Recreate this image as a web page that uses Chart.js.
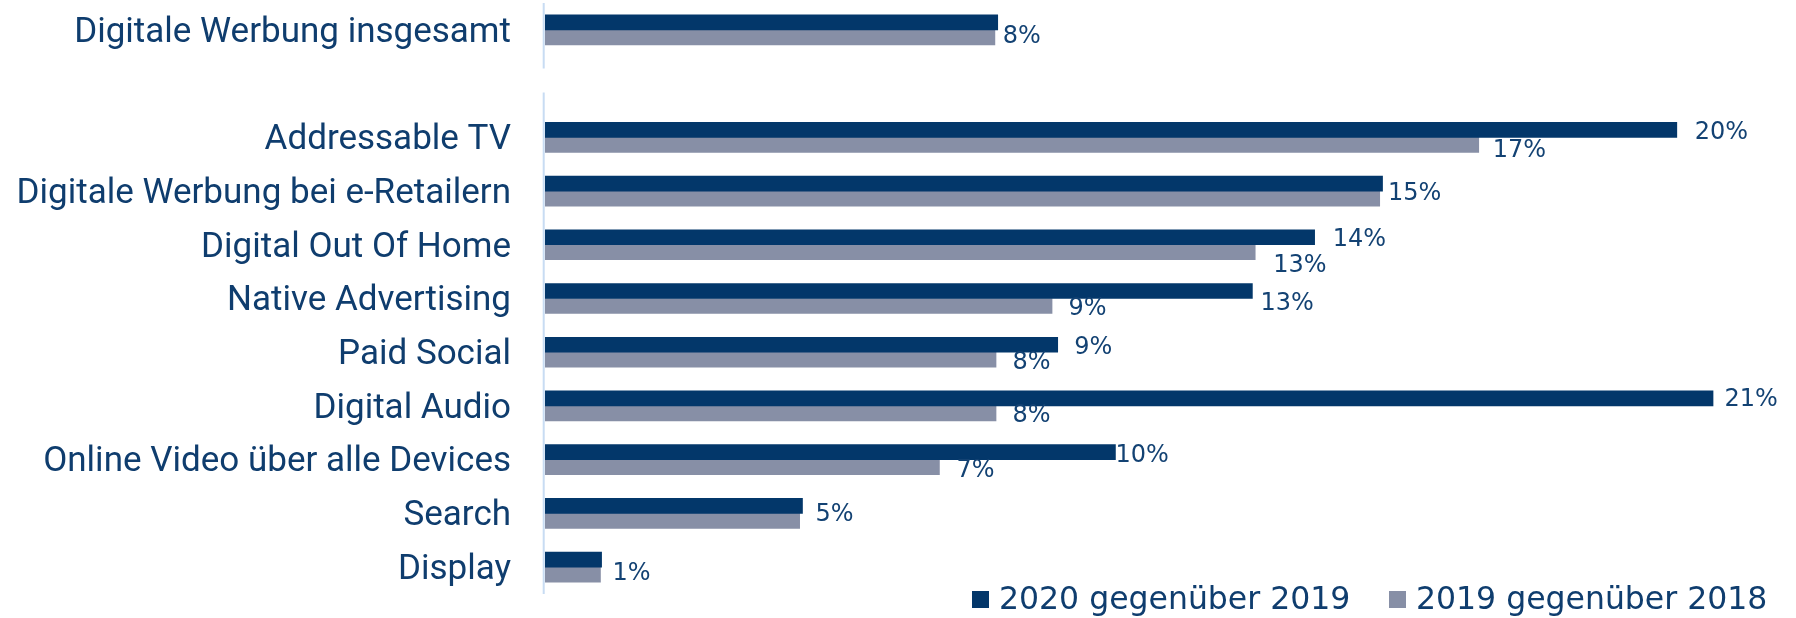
<!DOCTYPE html>
<html lang="de">
<head>
  <meta charset="UTF-8" />
  <title>Wachstum digitale Werbung</title>
  <script src="https://cdn.jsdelivr.net/npm/chart.js"></script>
  <style>
    body {
      margin: 0;
      background: #fff;
    }
    #wrap {
      position: relative;
      width: 1796px;
      height: 618px;
    }
    .legend-item {
      position: absolute;
      top: 580px;
      display: flex;
      align-items: flex-start;
      font-family: "DejaVu Sans", Verdana, sans-serif;
      font-size: 31.5px;
      line-height: 37px;
      color: #0f3d6e;
      white-space: nowrap;
    }
    .legend-item span.box {
      width: 17px;
      height: 17px;
      margin-top: 11px;
      margin-right: 10px;
    }
  </style>
</head>
<body>
  <div id="wrap">
    <canvas id="growthChart" width="1796" height="618"></canvas>
    <div class="legend-item" style="left: 972px;"><span class="box" style="background:#03376a"></span>2020 gegenüber 2019</div>
    <div class="legend-item" style="left: 1389px;"><span class="box" style="background:#878fa6"></span>2019 gegenüber 2018</div>
  </div>

  <script>
    // categories (the empty one is the spacer between the total and the channels)
    const categories = [
      'Digitale Werbung insgesamt',
      '',
      'Addressable TV',
      'Digitale Werbung bei e-Retailern',
      'Digital Out Of Home',
      'Native Advertising',
      'Paid Social',
      'Digital Audio',
      'Online Video über alle Devices',
      'Search',
      'Display'
    ];
    const seriesNames = ['2020 gegenüber 2019', '2019 gegenüber 2018'];
    // growth in percent
    const growth2020 = [8.0, null, 20.0, 14.8, 13.6, 12.5, 9.06, 20.64, 10.08, 4.55, 1.0];
    const growth2019 = [7.95, null, 16.5, 14.75, 12.55, 8.96, 7.97, 7.97, 6.97, 4.5, 0.98];

    // label placement next to the bar end: [dx, dy to baseline], null = no label
    const labelPos2020 = [[5, 21], null, [18, 9], [5.5, 16], [18, 9], [8, 19], [16.5, 9], [11.5, 8], [0, 9.5], [13, 15], [11, 20]];
    const labelPos2019 = [null, null, [14, 12.5], null, [18, 20], [16.5, 9], [16.5, 9], [16.5, 9], [17, 9.5], null, null];

    const navy = '#03376a';
    const grey = '#878fa6';
    const textColor = '#0f3d6e';

    const valueLabels = {
      id: 'valueLabels',
      afterDatasetsDraw(chart) {
        const ctx = chart.ctx;
        const positions = [labelPos2020, labelPos2019];
        ctx.save();
        ctx.font = '24px "DejaVu Sans", Verdana, sans-serif';
        ctx.fillStyle = '#134273';
        ctx.textAlign = 'left';
        ctx.textBaseline = 'alphabetic';
        chart.data.datasets.forEach((ds, i) => {
          const meta = chart.getDatasetMeta(i);
          meta.data.forEach((bar, j) => {
            const pos = positions[i][j];
            if (!pos || ds.data[j] == null) return;
            ctx.fillText(Math.round(ds.data[j]) + '%', bar.x + pos[0], bar.y + pos[1]);
          });
        });
        ctx.restore();
      }
    };

    // category axis line, broken at the spacer row
    const axisLine = {
      id: 'axisLine',
      beforeDatasetsDraw(chart) {
        const ctx = chart.ctx;
        const area = chart.chartArea;
        const gapY = chart.scales.y.getPixelForValue(1);
        const x = area.left - 1.3;
        ctx.save();
        ctx.strokeStyle = '#c8dcf3';
        ctx.lineWidth = 2;
        ctx.beginPath();
        ctx.moveTo(x, area.top);
        ctx.lineTo(x, gapY - 15);
        ctx.moveTo(x, gapY + 9);
        ctx.lineTo(x, area.bottom);
        ctx.stroke();
        ctx.restore();
      }
    };

    new Chart(document.getElementById('growthChart'), {
      type: 'bar',
      data: {
        labels: categories,
        datasets: [
          { label: seriesNames[0], data: growth2020, backgroundColor: navy, barThickness: 15 },
          { label: seriesNames[1], data: growth2019, backgroundColor: grey, barThickness: 15 }
        ]
      },
      options: {
        indexAxis: 'y',
        responsive: false,
        animation: false,
        layout: {
          padding: { left: 0, right: 6, top: 3, bottom: 24 }
        },
        scales: {
          x: {
            display: false,
            min: 0,
            max: 22
          },
          y: {
            grid: { display: false, drawTicks: false },
            border: { display: false },
            ticks: {
              color: textColor,
              padding: 34,
              labelOffset: 3,
              font: { family: 'Roboto', size: 35 }
            },
            afterFit(scale) {
              scale.width = 545;
              // no extra room for the first/last label
              scale.paddingTop = 0;
              scale.paddingBottom = 0;
            }
          }
        },
        plugins: {
          legend: { display: false },
          tooltip: { enabled: false }
        }
      },
      plugins: [axisLine, valueLabels]
    });
  </script>
</body>
</html>
